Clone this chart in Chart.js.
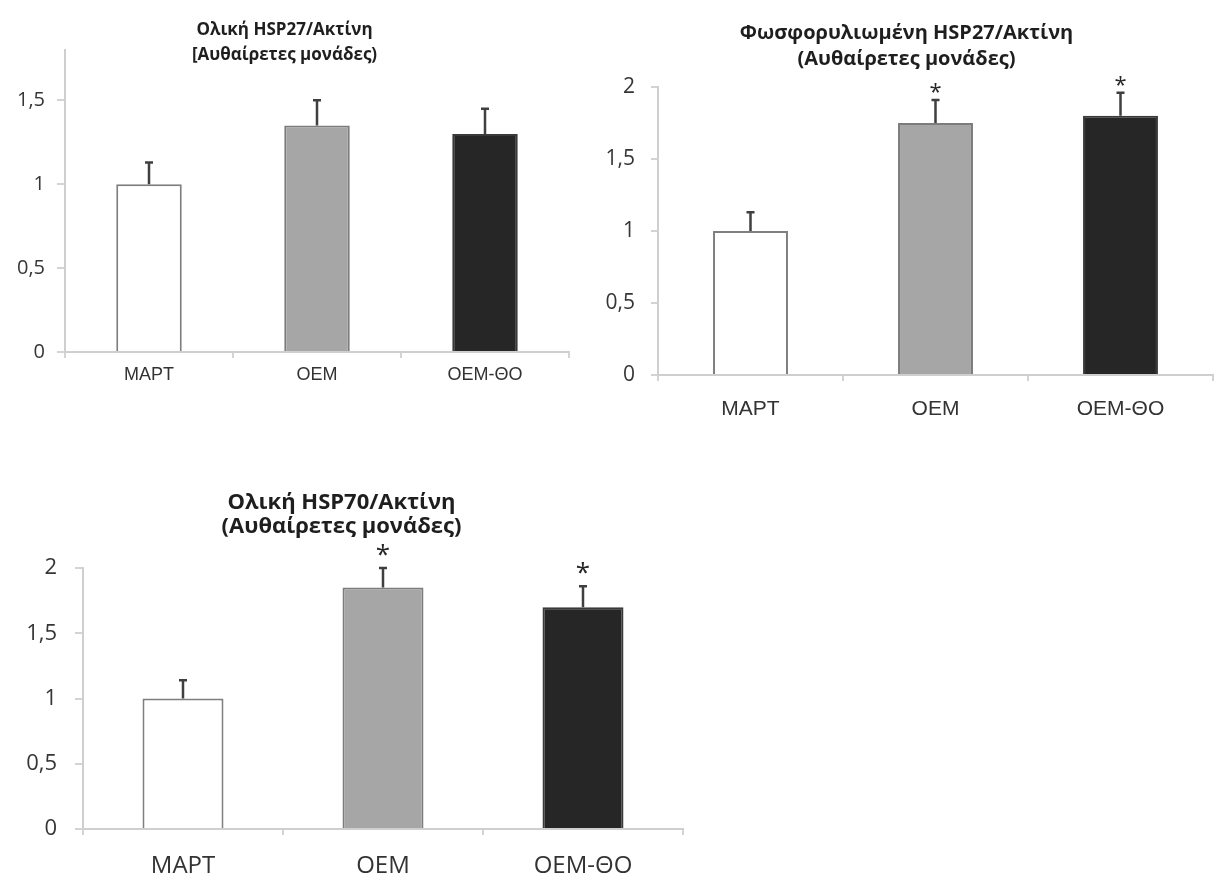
<!DOCTYPE html>
<html>
<head>
<meta charset="utf-8">
<script src="https://cdn.jsdelivr.net/npm/chart.js@4.4.1/dist/chart.umd.min.js"></script>
<style>
    html, body { margin: 0; padding: 0; background: #fff; overflow: hidden; width: 1215px; height: 878px; }
    .box { position: absolute; }
</style>
</head>
<body>
<div class="box" style="left:0;top:0;width:594px;height:400px"><canvas id="totalHsp27Chart"></canvas></div>
<div class="box" style="left:600px;top:0;width:648px;height:440px"><canvas id="phosphoHsp27Chart"></canvas></div>
<div class="box" style="left:0;top:470px;width:730px;height:408px"><canvas id="totalHsp70Chart"></canvas></div>
<script>
// ομάδες
const groups = ['MAPT', 'OEM', 'OEM-ΘΟ'];

// Ολική HSP27/Ακτίνη
const totalHsp27 = [1.0, 1.35, 1.3];
const totalHsp27Err = [0.13, 0.15, 0.15];
const totalHsp27Sig = ['', '', ''];

// Φωσφορυλιωμένη HSP27/Ακτίνη
const phosphoHsp27 = [1.0, 1.75, 1.8];
const phosphoHsp27Err = [0.13, 0.16, 0.16];
const phosphoHsp27Sig = ['', '*', '*'];

// Ολική HSP70/Ακτίνη
const totalHsp70 = [1.0, 1.85, 1.7];
const totalHsp70Err = [0.14, 0.15, 0.16];
const totalHsp70Sig = ['', '*', '*'];

const ticksTo15 = [0, 0.5, 1, 1.5];
const ticksTo2 = [0, 0.5, 1, 1.5, 2];

const barFill = ['#ffffff', '#a6a6a6', '#262626'];
const barBorder = ['#7f7f7f', '#7c7c7c', '#3a3a3a'];

// error bars + asterisks, drawn from the y scale
const errorBarPlugin = {
    id: 'errorBars',
    afterDatasetsDraw(chart, args, opts) {
        const ctx = chart.ctx;
        const yScale = chart.scales.y;
        chart.data.datasets.forEach((ds, di) => {
            chart.getDatasetMeta(di).data.forEach((bar, i) => {
                const top = yScale.getPixelForValue(ds.data[i] + ds.errors[i]);
                ctx.save();
                ctx.strokeStyle = '#3f3f3f';
                ctx.lineWidth = 2.5;
                ctx.beginPath();
                ctx.moveTo(bar.x, bar.y);
                ctx.lineTo(bar.x, top);
                ctx.moveTo(bar.x - opts.cap, top);
                ctx.lineTo(bar.x + opts.cap, top);
                ctx.stroke();
                if (ds.stars[i]) {
                    ctx.font = `${opts.starSize}px "Open Sans"`;
                    ctx.fillStyle = '#262626';
                    ctx.textAlign = 'center';
                    ctx.textBaseline = 'alphabetic';
                    ctx.fillText(ds.stars[i], bar.x, top - opts.starGap + 0.58 * opts.starSize);
                }
                ctx.restore();
            });
        });
    }
};

function makeChart(id, s) {
    return new Chart(document.getElementById(id), {
        type: 'bar',
        data: {
            labels: groups,
            datasets: [{
                data: s.values,
                errors: s.errors,
                stars: s.stars,
                backgroundColor: barFill,
                borderColor: barBorder,
                borderWidth: 2,
                categoryPercentage: 1,
                barPercentage: s.barPct
            }]
        },
        plugins: [errorBarPlugin],
        options: {
            responsive: true,
            maintainAspectRatio: false,
            animation: false,
            layout: { padding: { left: 0, right: s.padRight, top: 0, bottom: 0 } },
            plugins: {
                legend: { display: false },
                tooltip: { enabled: false },
                title: {
                    display: true,
                    text: s.title,
                    color: '#1e1e1e',
                    font: { family: 'Open Sans', size: s.titleSize, weight: 'bold', lineHeight: s.titleLh },
                    padding: { top: s.titleTop, bottom: s.titleBottom }
                },
                errorBars: { cap: 4, starSize: s.starSize, starGap: s.starGap }
            },
            scales: {
                x: {
                    afterFit: scale => { scale.height = s.xHeight; },
                    grid: { drawOnChartArea: false, drawTicks: true, tickLength: 6, color: '#d4d4d4', lineWidth: 2 },
                    border: { display: true, color: '#cfcfcf', width: 2 },
                    ticks: {
                        padding: s.xPad,
                        color: '#333333',
                        font: { family: s.xFamily, size: s.xSize }
                    }
                },
                y: {
                    min: 0,
                    max: s.max,
                    afterFit: scale => { scale.width = s.yWidth; },
                    afterBuildTicks: scale => { scale.ticks = s.ticks.map(v => ({ value: v })); },
                    grid: { drawOnChartArea: false, drawTicks: true, tickLength: s.yTick, color: '#d4d4d4', lineWidth: 2 },
                    border: { display: true, color: '#cfcfcf', width: 2 },
                    ticks: {
                        padding: s.yPad,
                        color: '#363636',
                        font: { family: 'Open Sans', size: s.ySize },
                        callback: v => String(v).replace('.', ',')
                    }
                }
            }
        }
    });
}

makeChart('totalHsp27Chart', {
    values: totalHsp27, errors: totalHsp27Err, stars: totalHsp27Sig,
    title: ['Ολική HSP27/Ακτίνη', '[Αυθαίρετες μονάδες)'],
    titleSize: 17, titleLh: '25px', titleTop: 18, titleBottom: -18,
    max: 1.8, ticks: ticksTo15, barPct: 0.39,
    padRight: 25, yWidth: 65, yTick: 8, yPad: 12, ySize: 20,
    xHeight: 48, xPad: 6, xSize: 18, xFamily: 'Liberation Sans',
    starSize: 20, starGap: 14
});

makeChart('phosphoHsp27Chart', {
    values: phosphoHsp27, errors: phosphoHsp27Err, stars: phosphoHsp27Sig,
    title: ['Φωσφορυλιωμένη HSP27/Ακτίνη', '(Αυθαίρετες μονάδες)'],
    titleSize: 20, titleLh: '26px', titleTop: 20, titleBottom: 15,
    max: 2, ticks: ticksTo2, barPct: 0.405,
    padRight: 35, yWidth: 58, yTick: 7, yPad: 16, ySize: 21,
    xHeight: 65, xPad: 16, xSize: 21, xFamily: 'Liberation Sans',
    starSize: 22, starGap: 14
});

makeChart('totalHsp70Chart', {
    values: totalHsp70, errors: totalHsp70Err, stars: totalHsp70Sig,
    title: ['Ολική HSP70/Ακτίνη', '(Αυθαίρετες μονάδες)'],
    titleSize: 22, titleLh: '24px', titleTop: 21, titleBottom: 29,
    max: 2, ticks: ticksTo2, barPct: 0.405,
    padRight: 47, yWidth: 83, yTick: 8, yPad: 18, ySize: 22,
    xHeight: 49, xPad: 17, xSize: 24, xFamily: 'Open Sans',
    starSize: 26, starGap: 20
});
</script>
</body>
</html>
